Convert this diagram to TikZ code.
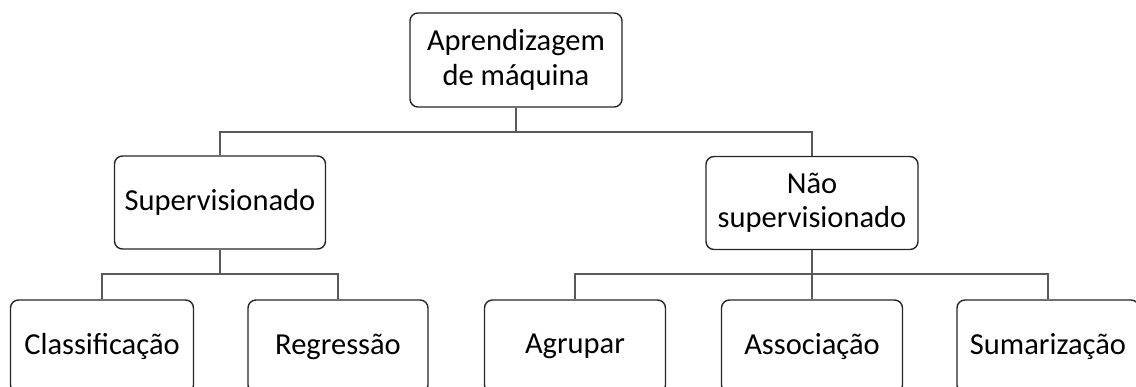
\documentclass[tikz,border=0pt]{standalone}
\usepackage{fontspec}
\setmainfont{Carlito}
\begin{document}
\begin{tikzpicture}[x=1pt,y=-1pt,
  box/.style={draw=black!85, line width=1.4pt, rounded corners=8pt, fill=white,
    align=center, inner sep=0pt, font=\fontsize{30.5}{34.5}\selectfont},
  link/.style={draw=black!65, line width=1.7pt}]
\useasboundingbox (0,0) rectangle (1136,387);
\clip (0,0) rectangle (1136,387);
\node[box, minimum width=212pt, minimum height=94pt] (top) at (516,60) {Aprendizagem\\de máquina};
\node[box, minimum width=211pt, minimum height=93pt] (sup) at (220,202.5) {Supervisionado};
\node[box, minimum width=212pt, minimum height=93pt] (nao) at (812,203) {Não\\supervisionado};
\node[box, minimum width=183pt, minimum height=93pt] (cla) at (102,346.5) {Classificação};
\node[box, minimum width=180pt, minimum height=93pt] (reg) at (338,346.5) {Regressão};
\node[box, minimum width=181pt, minimum height=93pt] (agr) at (575,346.5) {Agrupar};
\node[box, minimum width=181pt, minimum height=93pt] (ass) at (812,346.5) {Associação};
\node[box, minimum width=182pt, minimum height=93pt] (sum) at (1048,346.5) {Sumarização};
\coordinate (b1) at (516,132);
\coordinate (b2) at (220,274);
\coordinate (b3) at (812,274);
\draw[link] (top.south) -- (b1) -| (sup.north);
\draw[link] (b1) -| (nao.north);
\draw[link] (sup.south) -- (b2) -| (cla.north);
\draw[link] (b2) -| (reg.north);
\draw[link] (nao.south) -- (b3) -| (agr.north);
\draw[link] (b3) -- (ass.north);
\draw[link] (b3) -| (sum.north);
\end{tikzpicture}
\end{document}
